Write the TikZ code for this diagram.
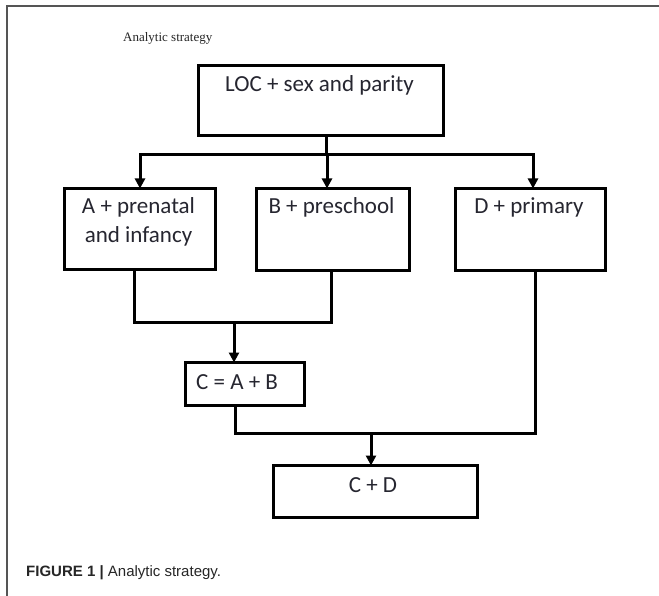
\documentclass[tikz,border=0pt]{standalone}
\usepackage{fontspec}
\setmainfont{Carlito}
\newfontfamily\capfont{Liberation Sans}
\newfontfamily\serfont{Liberation Serif}
\usetikzlibrary{arrows.meta}
\definecolor{txtc}{HTML}{262630}
\definecolor{framec}{HTML}{555555}
\tikzset{
  boxnode/.style={draw=black, line width=3pt, inner sep=0pt, anchor=north west},
  boxtext/.style={inner sep=0pt, text=txtc, font=\fontsize{23}{29}\selectfont, align=center},
  conn/.style={draw=black, line width=3pt, line cap=rect, line join=miter},
  arr/.style={draw=black, line width=3pt, -{Triangle[width=10pt,length=10pt]}},
  frameline/.style={draw=framec, line width=1.2pt},
}
\begin{document}
\begin{tikzpicture}[x=1pt,y=-1pt]
\useasboundingbox (0,0) rectangle (659,596);
\fill[white] (0,0) rectangle (659,596);
\draw[frameline] (7,596) -- (7,6) -- (659,6);

\node[inner sep=0pt, anchor=base west, text=black!85, font=\serfont\fontsize{13}{15}\selectfont] (title) at (123,42) {Analytic strategy};

% boxes
\node[boxnode, minimum width=245pt, minimum height=70pt] (L) at (197,64) {};
\node[boxnode, minimum width=151pt, minimum height=81pt] (A) at (63,187) {};
\node[boxnode, minimum width=153pt, minimum height=82pt] (B) at (255,187) {};
\node[boxnode, minimum width=150pt, minimum height=82pt] (D) at (454,187) {};
\node[boxnode, minimum width=119pt, minimum height=43pt] (C) at (184,361) {};
\node[boxnode, minimum width=204pt, minimum height=52pt] (CD) at (272,464) {};

% texts
\node[boxtext, anchor=base] (Lt) at (319.5,92) {LOC + sex and parity};
\node[boxtext, anchor=north] (At) at (138.5,197) {A + prenatal\\and infancy};
\node[boxtext, anchor=base] (Bt) at (331.5,214) {B + preschool};
\node[boxtext, anchor=base] (Dt) at (529,214) {D + primary};
\node[boxtext, anchor=base west] (Ct) at (196,389) {C = A + B};
\node[boxtext, anchor=base] (CDt) at (373,492) {C + D};

% connector coordinates
\coordinate (j0) at (326,155);
\coordinate (jA) at (140,155);
\coordinate (jB) at (327,155);
\coordinate (jD) at (533,155);
\coordinate (a1) at (134,322);
\coordinate (b1) at (331,322);
\coordinate (m1) at (234,322);
\coordinate (c1) at (235,433);
\coordinate (d1) at (535,433);
\coordinate (m2) at (371,433);

\draw[conn] (L.south -| j0) -- (j0);
\draw[conn] (jA) -- (jD);
\draw[arr] (jA) -- ([yshift=-1.5pt]A.north -| jA);
\draw[arr] (jB) -- ([yshift=-1.5pt]B.north -| jB);
\draw[arr] (jD) -- ([yshift=-1.5pt]D.north -| jD);

\draw[conn] (A.south -| a1) -- (a1) -- (b1) -- (B.south -| b1);
\draw[arr] (m1) -- ([yshift=-1.5pt]C.north -| m1);

\draw[conn] (C.south -| c1) -- (c1) -- (d1) -- (D.south -| d1);
\draw[arr] (m2) -- ([yshift=-1.5pt]CD.north -| m2);

\node[inner sep=0pt, anchor=base west, text=black!85, font=\capfont\fontsize{15}{18}\selectfont] (cap) at (26,576) {\textbf{FIGURE 1 |} Analytic strategy.};
\end{tikzpicture}
\end{document}
